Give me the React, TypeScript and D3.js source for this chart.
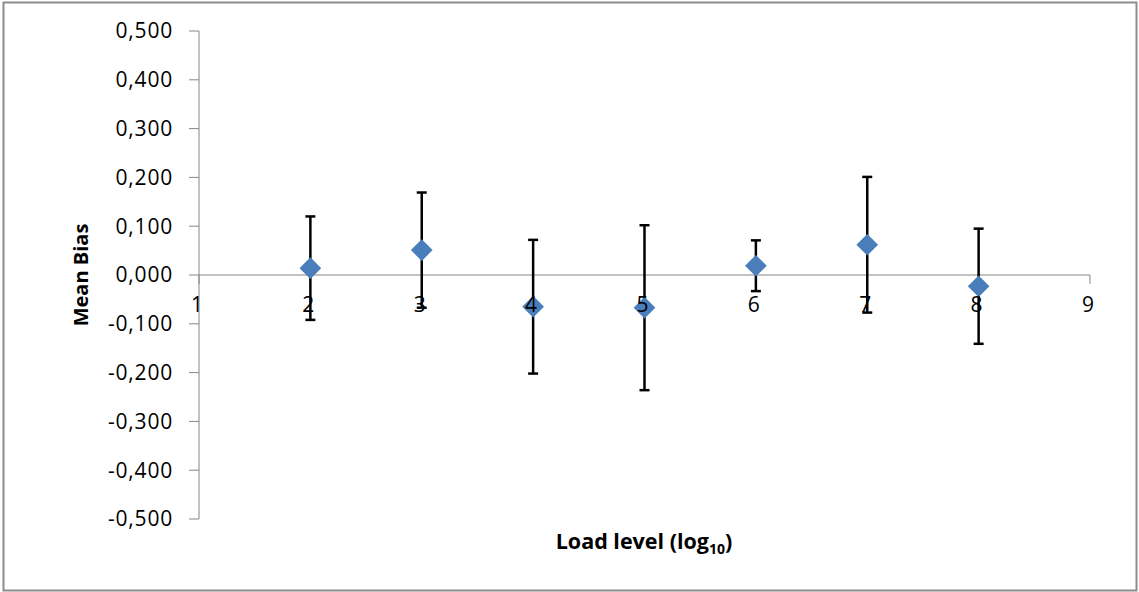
import React from "react";
import * as d3 from "d3";

const loadLevels = [2, 3, 4, 5, 6, 7, 8];
const meanBias = [0.014, 0.051, -0.065, -0.067, 0.019, 0.062, -0.023];
const errorSize = [0.106, 0.118, 0.137, 0.169, 0.052, 0.139, 0.118];
const yTicks = [0.5, 0.4, 0.3, 0.2, 0.1, 0, -0.1, -0.2, -0.3, -0.4, -0.5];
const xTicks = [1, 2, 3, 4, 5, 6, 7, 8, 9];

const W = 1139;
const H = 592;

export default function App() {
  const x = d3.scaleLinear().domain([1, 9]).range([199, 1090]);
  const y = d3.scaleLinear().domain([-0.5, 0.5]).range([519, 31]);
  const fmt = (v: number) => d3.format(".3f")(v).replace(".", ",").replace("−", "-");
  const font = "'Open Sans', 'Liberation Sans', sans-serif";
  const diamond = d3.symbol().type(d3.symbolDiamond2).size(300)();
  const axisColor = "#868686";
  return (
    <svg width={W} height={H} style={{ position: "absolute", left: 0, top: 0 }}>
      <rect x={0} y={0} width={W} height={H} fill="#fff" />
      <rect x={3.5} y={2.5} width={1133} height={588} fill="none" stroke="#8c8c8c" strokeWidth={2} />
      {/* y axis */}
      <line x1={x(1)} x2={x(1)} y1={y(0.5)} y2={y(-0.5)} stroke={axisColor} strokeWidth={1} />
      {yTicks.map((t) => (
        <g key={t}>
          <line x1={x(1) - 10} x2={x(1)} y1={y(t)} y2={y(t)} stroke={axisColor} strokeWidth={1} />
          <text x={173} y={y(t)} dy="0.35em" textAnchor="end" fontFamily={font} fontSize={21} letterSpacing={0.8} fill="#000">
            {fmt(t)}
          </text>
        </g>
      ))}
      {/* x axis */}
      <line x1={x(1)} x2={x(9)} y1={y(0)} y2={y(0)} stroke={axisColor} strokeWidth={1} />
      {xTicks.map((t) => (
        <line key={t} x1={x(t)} x2={x(t)} y1={y(0)} y2={y(0) + 9} stroke={axisColor} strokeWidth={1} />
      ))}
      {/* error bars */}
      {loadLevels.map((l, i) => {
        const cx = x(l);
        const top = y(meanBias[i] + errorSize[i]);
        const bot = y(meanBias[i] - errorSize[i]);
        return (
          <g key={l} stroke="#000" strokeWidth={2.5}>
            <line x1={cx} x2={cx} y1={top} y2={bot} />
            <line x1={cx - 5} x2={cx + 5} y1={top} y2={top} />
            <line x1={cx - 5} x2={cx + 5} y1={bot} y2={bot} />
          </g>
        );
      })}
      {/* markers */}
      {loadLevels.map((l, i) => (
        <path key={l} d={diamond!} transform={`translate(${x(l)},${y(meanBias[i])})`} fill="#4a7ebb" />
      ))}
      {/* x labels */}
      {xTicks.map((t) => (
        <text key={t} x={x(t) - 2} y={y(0) + 37} textAnchor="middle" fontFamily={font} fontSize={21} fill="#000">
          {t}
        </text>
      ))}
      <text x={644} y={549} textAnchor="middle" fontFamily={font} fontSize={21.5} fontWeight="bold" fill="#000">
        Load level (log<tspan fontSize={14} dy={5}>10</tspan><tspan dy={-5}>)</tspan>
      </text>
      <text transform={`translate(88,${y(0)}) rotate(-90)`} textAnchor="middle" fontFamily={font} fontSize={20} fontWeight="bold" fill="#000">
        Mean Bias
      </text>
    </svg>
  );
}
